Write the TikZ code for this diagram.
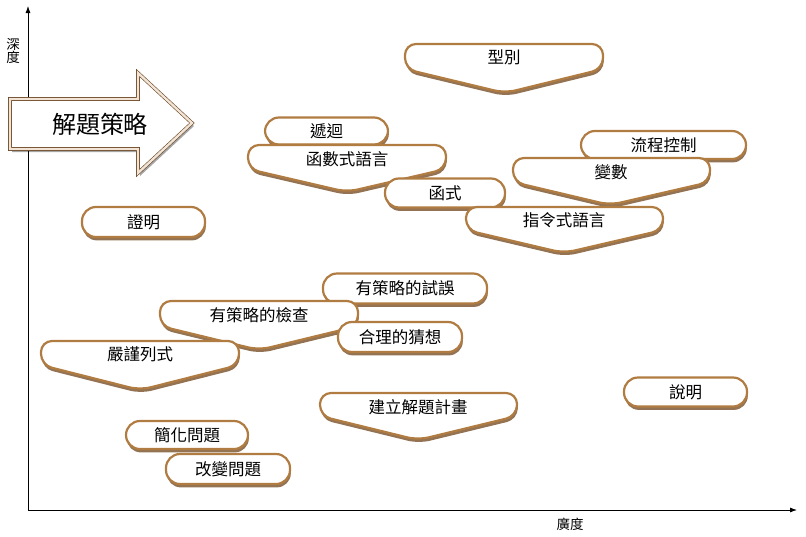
\documentclass[tikz,border=0pt]{standalone}
\usepackage{fontspec}
\newfontfamily\cjk{Noto Sans CJK TC}
\usetikzlibrary{shadows,arrows.meta}

\definecolor{pillbrown}{RGB}{176,124,66}
\definecolor{shadowbrown}{RGB}{120,80,40}

\tikzset{
  pill/.style={draw=pillbrown, line width=2.2pt, fill=white, rounded corners=14pt,
    inner sep=0pt, font=\cjk\fontsize{16.5}{17}\selectfont,
    drop shadow={shadow xshift=0.8pt, shadow yshift=-3.4pt, fill=shadowbrown, opacity=0.8}},
  callout/.style={draw=pillbrown, line width=2.2pt, fill=white, rounded corners=11pt,
    drop shadow={shadow xshift=0.8pt, shadow yshift=-3.4pt, fill=shadowbrown, opacity=0.8}},
  calltext/.style={font=\cjk\fontsize{16.5}{17}\selectfont},
  bigarrow/.style={draw=brown!55!black, line width=0.6pt, double=brown!22, double distance=2.4pt,
    fill=white, drop shadow={shadow xshift=2pt, shadow yshift=-3pt, fill=black, opacity=0.35}},
  axis/.style={line width=0.8pt, -{Latex[length=7pt,width=5pt]}},
  axislabel/.style={font=\cjk\fontsize{13.5}{14}\selectfont}
}

\begin{document}
\begin{tikzpicture}[x=1pt,y=-1pt]
  \useasboundingbox (0,0) rectangle (806,536);

  % Axes
  \coordinate (o) at (28,510);
  \coordinate (ytop) at (28,6);
  \coordinate (xend) at (797,510);
  \draw[axis] (o) -- (ytop);
  \draw[axis] (o) -- (xend);
  \node[axislabel, align=center] (depth) at (13,51) {深\\[-1pt]度};
  \node[axislabel] (breadth) at (570,524) {廣度};

  % Big arrow
  \draw[bigarrow] (10,99) -- (138,99) -- (138,73) -- (192,123) -- (138,173) -- (138,149) -- (10,149) -- cycle;
  \node[font=\cjk\fontsize{24}{25}\selectfont] (strategy) at (100,124) {解題策略};

  % Top group
  \draw[callout] (405,44) -- (603,44) -- (603,69) -- (505,93) -- (405,69) -- cycle;
  \node[calltext] (xingbie) at (504,57) {型別};

  \node[pill, minimum width=123pt, minimum height=27pt] (digui) at (326.5,131) {遞迴};
  \draw[callout] (248,145) -- (446,145) -- (446,169) -- (347,192) -- (248,169) -- cycle;
  \node[calltext] (hanshushi) at (347,159) {函數式語言};
  \node[pill, minimum width=120pt, minimum height=29pt] (hanshi) at (445,193) {函式};

  \node[pill, minimum width=165pt, minimum height=28pt] (liucheng) at (663.5,145) {流程控制};
  \draw[callout] (513,158) -- (710,158) -- (710,182) -- (610,205) -- (513,182) -- cycle;
  \node[calltext] (bianshu) at (611,172) {變數};
  \draw[callout] (466,207) -- (663,207) -- (663,230) -- (564,253) -- (466,230) -- cycle;
  \node[calltext] (zhiling) at (564,220) {指令式語言};

  % Middle group
  \node[pill, minimum width=123pt, minimum height=30pt] (zhengming) at (143.5,222) {證明};
  \node[pill, minimum width=164pt, minimum height=30pt] (shiwu) at (405,288.5) {有策略的試誤};
  \draw[callout] (160,301) -- (358,301) -- (358,326) -- (259,350) -- (160,326) -- cycle;
  \node[calltext] (jiancha) at (259,315) {有策略的檢查};
  \node[pill, minimum width=124pt, minimum height=30pt] (caixiang) at (400,337) {合理的猜想};
  \draw[callout] (41,341) -- (239,341) -- (239,365) -- (140,390) -- (41,365) -- cycle;
  \node[calltext] (lieshi) at (140,354) {嚴謹列式};

  % Lower group
  \node[pill, minimum width=123pt, minimum height=29pt] (shuoming) at (685.5,392) {說明};
  \draw[callout] (320,393) -- (517,393) -- (517,416) -- (418,440) -- (320,416) -- cycle;
  \node[calltext] (jihua) at (418,407) {建立解題計畫};
  \node[pill, minimum width=122pt, minimum height=28pt] (jianhua) at (187,435) {簡化問題};
  \node[pill, minimum width=124pt, minimum height=30pt] (gaibian) at (228,469) {改變問題};
\end{tikzpicture}
\end{document}
